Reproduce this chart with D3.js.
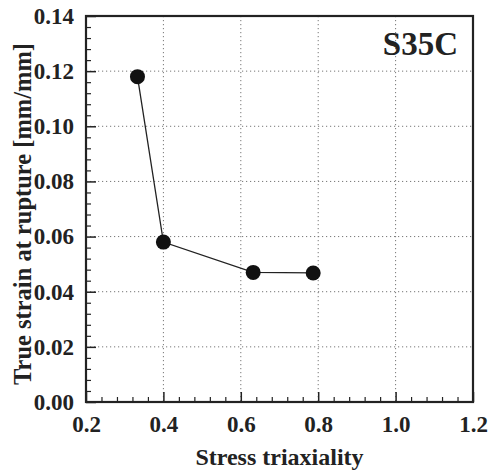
<!DOCTYPE html>
<html>
<head>
<meta charset="utf-8">
<script src="https://cdn.jsdelivr.net/npm/d3@7"></script>
<style>
  body { margin: 0; background: #fff; }
  svg text { font-family: "Liberation Serif", "Times New Roman", serif; font-weight: bold; fill: #222; }
</style>
</head>
<body>
<script>
// data
const triaxiality = [0.333, 0.40, 0.632, 0.787];
const ruptureStrain = [0.118, 0.058, 0.047, 0.0468];
const xTicks = [0.2, 0.4, 0.6, 0.8, 1.0, 1.2];
const yTicks = [0.00, 0.02, 0.04, 0.06, 0.08, 0.10, 0.12, 0.14];
const steelLabel = "S35C";

const W = 492, H = 471;
const margin = { top: 16, right: 19, bottom: 69, left: 86 },
      width = W - margin.left - margin.right,
      height = H - margin.top - margin.bottom;

const x = d3.scaleLinear().domain([0.2, 1.2]).range([0, width]);
const y = d3.scaleLinear().domain([0, 0.14]).range([height, 0]);

const svg = d3.select("body").append("svg")
    .attr("width", W)
    .attr("height", H)
  .append("g")
    .attr("transform", "translate(" + margin.left + "," + margin.top + ")");

// dotted grid
svg.append("g")
  .selectAll("line")
  .data(xTicks.slice(1, -1))
  .enter().append("line")
    .attr("x1", d => x(d)).attr("x2", d => x(d))
    .attr("y1", 0).attr("y2", height)
    .attr("stroke", "#777").attr("stroke-width", 1)
    .attr("stroke-dasharray", "1.2,2.8");

svg.append("g")
  .selectAll("line")
  .data(yTicks.slice(1, -1))
  .enter().append("line")
    .attr("y1", d => y(d)).attr("y2", d => y(d))
    .attr("x1", 0).attr("x2", width)
    .attr("stroke", "#777").attr("stroke-width", 1)
    .attr("stroke-dasharray", "1.2,2.8");

// minor ticks (inside)
const xMinor = d3.range(0.24, 1.2, 0.04).filter(v => Math.abs(v * 5 - Math.round(v * 5)) > 1e-6);
const yMinor = d3.range(0.004, 0.14, 0.004).filter(v => Math.abs(v * 50 - Math.round(v * 50)) > 1e-6);

svg.append("g")
  .attr("transform", "translate(0," + height + ")")
  .call(d3.axisBottom(x).tickValues(xMinor).tickSize(-5).tickFormat(""))
  .call(g => g.select(".domain").remove())
  .selectAll("line").attr("stroke", "#222").attr("stroke-width", 1.2);

svg.append("g")
  .call(d3.axisLeft(y).tickValues(yMinor).tickSize(-5).tickFormat(""))
  .call(g => g.select(".domain").remove())
  .selectAll("line").attr("stroke", "#222").attr("stroke-width", 1.2);

// major ticks and labels
const xAxis = svg.append("g")
  .attr("transform", "translate(0," + height + ")")
  .call(d3.axisBottom(x).tickValues(xTicks).tickSize(-10).tickPadding(18).tickFormat(d3.format(".1f")));
xAxis.select(".domain").remove();
xAxis.selectAll("line").attr("stroke", "#222").attr("stroke-width", 1.5);
xAxis.selectAll("text").attr("font-size", 23).attr("dy", "0.5em");

const yAxis = svg.append("g")
  .call(d3.axisLeft(y).tickValues(yTicks).tickSize(-10).tickPadding(12).tickFormat(d3.format(".2f")));
yAxis.select(".domain").remove();
yAxis.selectAll("line").attr("stroke", "#222").attr("stroke-width", 1.5);
yAxis.selectAll("text").attr("font-size", 23);

// frame
svg.append("rect")
    .attr("width", width).attr("height", height)
    .attr("fill", "none").attr("stroke", "#222").attr("stroke-width", 2.2);

// data line and markers
const pts = triaxiality.map((t, i) => [t, ruptureStrain[i]]);

svg.append("path")
    .datum(pts)
    .attr("fill", "none")
    .attr("stroke", "#222")
    .attr("stroke-width", 1.3)
    .attr("d", d3.line().x(d => x(d[0])).y(d => y(d[1])));

svg.append("g")
  .selectAll("circle")
  .data(pts)
  .enter().append("circle")
    .attr("cx", d => x(d[0]))
    .attr("cy", d => y(d[1]))
    .attr("r", 7.5)
    .attr("fill", "#111");

// labels
svg.append("text")
    .attr("x", width - 15)
    .attr("y", 39)
    .attr("text-anchor", "end")
    .attr("font-size", 33)
    .text(steelLabel);

svg.append("text")
    .attr("x", width / 2)
    .attr("y", height + 63)
    .attr("text-anchor", "middle")
    .attr("font-size", 24)
    .text("Stress triaxiality");

svg.append("text")
    .attr("transform", "translate(" + (31 - margin.left) + "," + (214 - margin.top) + ") rotate(-90)")
    .attr("text-anchor", "middle")
    .attr("font-size", 24.5)
    .text("True strain at rupture [mm/mm]");
</script>
</body>
</html>
